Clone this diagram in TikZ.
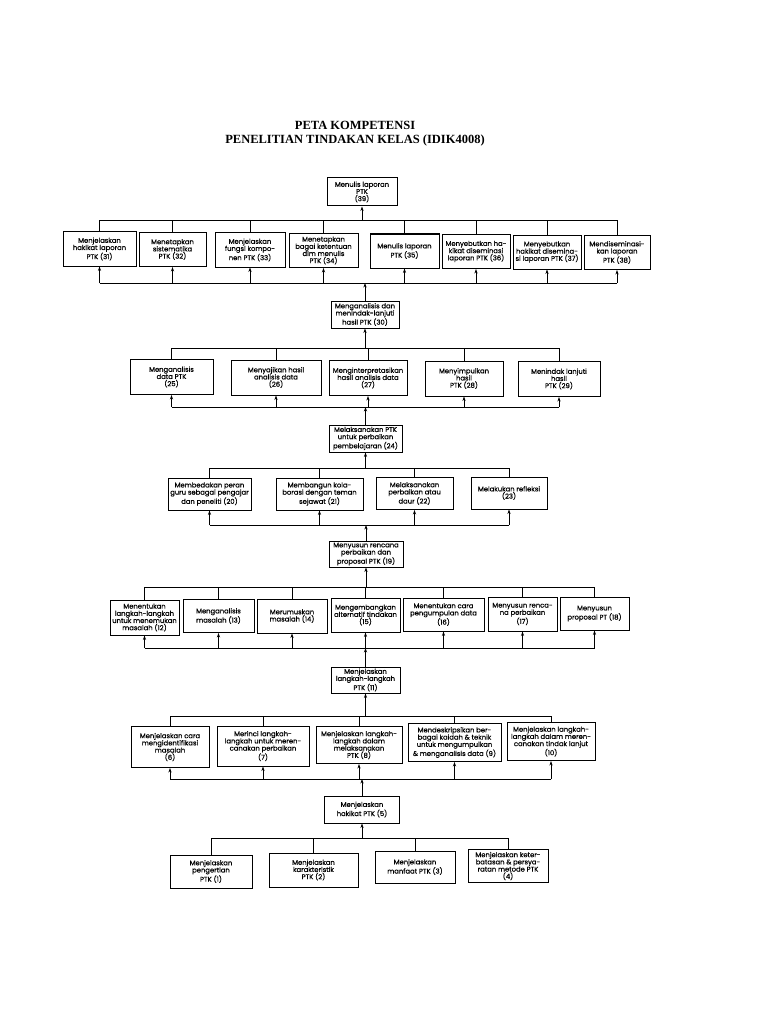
\documentclass[tikz,border=0pt]{standalone}
\usepackage{fontspec}
\setmainfont{Liberation Serif}
\newfontfamily\boxfont[FakeBold=0.6]{Poppins}
\usetikzlibrary{arrows.meta}
\tikzset{
  box/.style={draw, line width=1pt, align=center, inner sep=1pt,
    font=\boxfont\fontsize{6.8}{7.2}\selectfont},
  conn/.style={line width=0.9pt},
  arr/.style={line width=0.9pt, -{Stealth[length=4.5pt,width=3.2pt]}},
  ttl/.style={font=\bfseries\fontsize{12.5}{14}\selectfont, anchor=base}
}
\begin{document}
\begin{tikzpicture}[x=1pt,y=-1pt]
\useasboundingbox (0,0) rectangle (768,1024);
\fill[white] (0,0) rectangle (768,1024);

\node[ttl] (t1) at (355,130) {PETA KOMPETENSI};
\node[ttl] (t2) at (355,144) {PENELITIAN TINDAKAN KELAS (IDIK4008)};

% ---------- level 1
\node[box, minimum width=70, minimum height=28] (n39) at (362,192) {Menulis laporan\\PTK\\(39)};
\node[box, minimum width=73, minimum height=34] (n31) at (99.5,249) {Menjelaskan\\hakikat laporan\\PTK (31)};
\node[box, minimum width=67, minimum height=34] (n32) at (172.5,249.5) {Menetapkan\\sistematika\\PTK (32)};
\node[box, minimum width=70, minimum height=34] (n33) at (250,250) {Menjelaskan\\fungsi kompo-\\nen PTK (33)};
\node[box, minimum width=69, minimum height=34] (n34) at (323.5,250.5) {Menetapkan\\bagai ketentuan\\dlm menulis\\PTK (34)};
\node[box, minimum width=69, minimum height=34] (n35) at (404.5,251) {Menulis laporan\\PTK (35)};
\node[box, minimum width=68, minimum height=34] (n36) at (476,251.5) {Menyebutkan ha-\\kikat diseminasi\\laporan PTK (36)};
\node[box, minimum width=68, minimum height=34] (n37) at (547,252) {Menyebutkan\\hakikat disemina-\\si laporan PTK (37)};
\node[box, minimum width=66, minimum height=34] (n38) at (617,252.5) {Mendiseminasi-\\kan laporan\\PTK (38)};

% ---------- level 2
\node[box, minimum width=68, minimum height=27] (n30) at (365,314.5) {Menganalisis dan\\menindak-lanjuti\\hasil PTK (30)};
\node[box, minimum width=83, minimum height=35] (n25) at (171.5,377) {Menganalisis\\data PTK\\(25)};
\node[box, minimum width=90, minimum height=35] (n26) at (276,377.5) {Menyajikan hasil\\analisis data\\(26)};
\node[box, minimum width=78, minimum height=35] (n27) at (368,378) {Menginterpretasikan\\hasil analisis data\\(27)};
\node[box, minimum width=78, minimum height=35] (n28) at (464,378.5) {Menyimpulkan\\hasil\\PTK (28)};
\node[box, minimum width=82, minimum height=35] (n29) at (559,379) {Menindak lanjuti\\hasil\\PTK (29)};

% ---------- level 3
\node[box, minimum width=73, minimum height=27] (n24) at (365.5,438.5) {Melaksanakan PTK\\untuk perbaikan\\pembelajaran (24)};
\node[box, minimum width=83, minimum height=32] (n20) at (209.5,494) {Membedakan peran\\guru sebagai pengajar\\dan peneliti (20)};
\node[box, minimum width=87, minimum height=32] (n21) at (319.5,494) {Membangun kola-\\borasi dengan teman\\sejawat (21)};
\node[box, minimum width=77, minimum height=32] (n22) at (414.5,493.5) {Melaksanakan\\perbaikan atau\\daur (22)};
\node[box, minimum width=76, minimum height=32] (n23) at (509,493) {Melakukan refleksi\\(23)};

% ---------- level 4
\node[box, minimum width=74, minimum height=26] (n19) at (366,554) {Menyusun rencana\\perbaikan dan\\proposal PTK (19)};
\node[box, minimum width=69, minimum height=35] (n12) at (144.5,617.5) {Menentukan\\langkah-langkah\\untuk menemukan\\masalah (12)};
\node[box, minimum width=71, minimum height=33] (n13) at (218.5,616) {Menganalisis\\masalah (13)};
\node[box, minimum width=70, minimum height=34] (n14) at (292,616) {Merumuskan\\masalah (14)};
\node[box, minimum width=69, minimum height=34] (n15) at (365.5,615) {Mengembangkan\\alternatif tindakan\\(15)};
\node[box, minimum width=81, minimum height=33] (n16) at (443.5,614.5) {Menentukan cara\\pengumpulan data\\(16)};
\node[box, minimum width=69, minimum height=34] (n17) at (522.5,614) {Menyusun renca-\\na perbaikan\\(17)};
\node[box, minimum width=69, minimum height=33] (n18) at (594.5,613.5) {Menyusun\\proposal PT (18)};

% ---------- level 5
\node[box, minimum width=69, minimum height=26] (n11) at (365.5,680) {Menjelaskan\\langkah-langkah\\PTK (11)};
\node[box, minimum width=78, minimum height=41] (n6) at (170,747) {Menjelaskan cara\\mengidentifikasi\\masalah\\(6)};
\node[box, minimum width=92, minimum height=40] (n7) at (263,746) {Merinci langkah-\\langkah untuk meren-\\canakan perbaikan\\(7)};
\node[box, minimum width=86, minimum height=37] (n8) at (359,745) {Menjelaskan langkah-\\langkah dalam\\melaksanakan\\PTK (8)};
\node[box, minimum width=93, minimum height=38] (n9) at (454.5,742.5) {Mendeskripsikan ber-\\bagai kaidah \& teknik\\untuk mengumpulkan\\\& menganalisis data (9)};
\node[box, minimum width=88, minimum height=38] (n10) at (551,741.5) {Menjelaskan langkah-\\langkah dalam meren-\\canakan tindak lanjut\\(10)};

% ---------- level 6
\node[box, minimum width=75, minimum height=27] (n5) at (362,809.5) {Menjelaskan\\hakikat PTK (5)};
\node[box, minimum width=82, minimum height=33] (n1) at (211,871.5) {Menjelaskan\\pengertian\\PTK (1)};
\node[box, minimum width=89, minimum height=34] (n2) at (313.5,870) {Menjelaskan\\karakteristik\\PTK (2)};
\node[box, minimum width=80, minimum height=32] (n3) at (415,867) {Menjelaskan\\manfaat PTK (3)};
\node[box, minimum width=80, minimum height=33] (n4) at (508,866) {Menjelaskan keter-\\batasan \& persya-\\ratan metode PTK\\(4)};

% ---------- bus levels
\coordinate (u1) at (0,220); \coordinate (l1) at (0,283);
\coordinate (u2) at (0,348); \coordinate (l2) at (0,407);
\coordinate (u3) at (0,468); \coordinate (l3) at (0,525);
\coordinate (u4) at (0,587); \coordinate (l4) at (0,648);
\coordinate (u5) at (0,716); \coordinate (l5) at (0,779);
\coordinate (u6) at (0,838);

% level 1 connectors
\foreach \n in {31,...,38} {
  \draw[conn] (n\n.north) -- (n\n.north |- u1);
  \draw[arr] (n\n.south |- l1) -- (n\n.south);
}
\draw[conn] (n31.north |- u1) -- (n38.north |- u1);
\draw[conn] (n31.south |- l1) -- (n38.south |- l1);
\draw[arr] (n39.south |- u1) -- (n39.south);
\draw[arr] (n30.north) -- (n30.north |- l1);

% level 2 connectors
\foreach \n in {25,...,29} {
  \draw[conn] (n\n.north) -- (n\n.north |- u2);
  \draw[arr] (n\n.south |- l2) -- (n\n.south);
}
\draw[conn] (n25.north |- u2) -- (n29.north |- u2);
\draw[conn] (n25.south |- l2) -- (n29.south |- l2);
\draw[arr] (n30.south |- u2) -- (n30.south);
\draw[arr] (n24.north) -- (n24.north |- l2);

% level 3 connectors
\foreach \n in {20,...,23} {
  \draw[conn] (n\n.north) -- (n\n.north |- u3);
  \draw[arr] (n\n.south |- l3) -- (n\n.south);
}
\draw[conn] (n20.north |- u3) -- (n23.north |- u3);
\draw[conn] (n20.south |- l3) -- (n23.south |- l3);
\draw[arr] (n24.south |- u3) -- (n24.south);
\draw[arr] (n19.north) -- (n19.north |- l3);

% level 4 connectors
\foreach \n in {12,...,18} {
  \draw[conn] (n\n.north) -- (n\n.north |- u4);
  \draw[arr] (n\n.south |- l4) -- (n\n.south);
}
\draw[conn] (n12.north |- u4) -- (n18.north |- u4);
\draw[conn] (n12.south |- l4) -- (n18.south |- l4);
\draw[arr] (n19.south |- u4) -- (n19.south);
\draw[arr] (n11.north) -- (n11.north |- l4);

% level 5 connectors
\foreach \n in {6,...,10} {
  \draw[conn] (n\n.north) -- (n\n.north |- u5);
  \draw[arr] (n\n.south |- l5) -- (n\n.south);
}
\draw[conn] (n6.north |- u5) -- (n10.north |- u5);
\draw[conn] (n6.south |- l5) -- (n10.south |- l5);
\draw[arr] (n11.south |- u5) -- (n11.south);
\draw[arr] (n5.north) -- (n5.north |- l5);

% level 6 connectors
\foreach \n in {1,...,4} {
  \draw[conn] (n\n.north) -- (n\n.north |- u6);
}
\draw[conn] (n1.north |- u6) -- (n4.north |- u6);
\draw[arr] (n5.south |- u6) -- (n5.south);
\end{tikzpicture}
\end{document}
